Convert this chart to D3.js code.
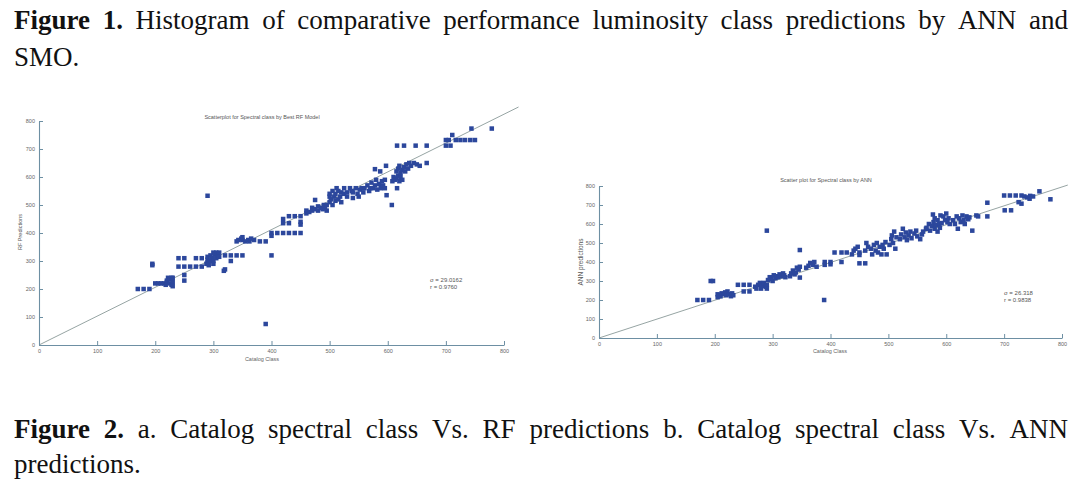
<!DOCTYPE html>
<html>
<head>
<meta charset="utf-8">
<script src="https://cdn.jsdelivr.net/npm/d3@7"></script>
<style>
  body { margin: 0; background: #fff; }
  svg { display: block; }
</style>
</head>
<body>
<div id="figure"></div>
<script>
// ---- data ----
const axisTicks = [0, 100, 200, 300, 400, 500, 600, 700, 800];

// RF model: [catalog class, predicted class]
const rfPoints = [
  [170,200],[180,200],[190,200],[195,290],[195,285],
  [200,220],[205,220],[210,220],[215,220],[218,215],[220,225],[220,230],[222,240],[225,235],[225,220],
  [228,240],[228,215],[230,225],[230,240],[230,210],
  [240,310],[250,310],[240,280],[250,280],[260,280],[270,280],[280,280],[250,250],[250,230],[270,310],[280,310],
  [288,290],[290,295],[290,305],[290,315],[292,285],[295,300],[295,320],[298,310],[300,330],[300,300],
  [302,325],[305,310],[305,330],[308,320],[310,330],[310,315],[300,290],
  [290,533],
  [320,320],[320,270],[318,265],[330,300],[330,320],[340,320],[350,320],
  [340,370],[343,375],[348,380],[350,385],[350,375],[355,370],[360,375],[362,370],[365,380],[370,375],[380,370],[390,370],
  [390,75],
  [400,320],[400,400],[400,390],
  [420,450],[420,435],[430,435],[430,460],[410,400],[420,400],[430,400],[440,400],[450,400],[440,460],[450,460],[450,440],[450,430],
  [460,470],[460,480],[465,475],[470,490],[470,480],[475,518],[475,485],[480,480],[480,495],[485,490],[488,485],
  [490,500],[492,490],[495,500],[495,480],
  [500,510],[500,530],[500,540],[502,520],[505,500],[505,550],[508,530],[510,515],[510,540],[512,560],[515,520],
  [515,550],[518,530],[520,545],[520,510],
  [525,560],[525,540],[530,545],[530,530],[535,560],[538,550],[540,525],[540,545],[545,560],[548,540],[550,530],
  [552,555],[555,560],[558,545],
  [560,560],[565,570],[568,550],[570,560],[572,580],[575,560],[578,570],[580,590],[582,555],[585,575],[588,560],
  [590,585],[592,570],[595,560],[595,590],
  [578,628],[587,620],[597,640],[598,535],[607,500],
  [608,585],[610,600],[612,590],[615,595],[618,605],[620,585],[622,600],[625,590],[616,560],
  [615,620],[618,630],[620,640],[622,615],[625,625],[628,635],[630,620],[632,645],[635,630],[637,650],[640,640],
  [616,712],[628,712],[648,712],[667,712],
  [645,650],[650,645],[667,650],[655,640],
  [700,732],[705,732],[700,712],[708,712],
  [717,732],[725,732],[733,732],[742,732],[750,732],[711,750],[744,773],[779,773]
];

// ANN model: [catalog class, predicted class]
const annPoints = [
  [170,200],[180,200],[190,200],[193,300],[197,300],
  [205,215],[208,225],[210,220],[212,235],[215,230],[218,240],[220,225],[222,245],[225,230],[228,220],
  [230,235],[232,225],[205,230],
  [240,280],[250,280],[260,280],[250,245],[260,245],
  [270,270],[272,260],[275,280],[278,290],[280,260],[282,275],[285,290],[288,270],[290,280],[290,260],
  [290,565],
  [292,305],[295,320],[298,310],[300,300],[302,330],[305,315],[308,325],[310,320],[312,335],[315,325],
  [318,340],[320,330],[322,320],
  [330,325],[332,340],[335,355],[338,335],[340,345],[342,370],[345,360],[347,375],[347,318],[347,463],
  [358,370],[362,380],[365,395],[370,385],[372,400],[376,375],
  [389,200],[390,400],[390,385],[400,400],[400,388],
  [407,450],[419,450],[428,450],[419,400],
  [437,440],[440,460],[443,470],[447,480],[450,450],[450,437],[450,393],[460,393],
  [460,460],[462,500],[465,480],[470,470],[472,440],[475,490],[478,460],[480,500],[482,450],[485,480],
  [488,440],[490,490],[492,470],[495,505],[497,440],
  [502,490],[505,520],[506,540],[508,500],[510,560],[512,470],[514,530],
  [520,520],[522,545],[525,575],[528,530],[530,555],[532,515],[535,540],[538,560],[540,525],[545,550],
  [548,565],[550,535],[555,520],[558,545],[560,560],[565,575],
  [566,580],[570,600],[572,565],[575,590],[578,610],[580,575],[582,595],[585,560],[588,600],[589,580],
  [577,650],[580,630],[585,620],[590,645],[592,605],[595,640],[598,620],[600,655],[602,610],[604,630],[606,600],
  [612,620],[615,600],[618,640],[620,575],[622,630],[625,610],[628,645],[630,620],[632,600],[635,640],
  [638,625],[640,635],
  [645,565],[652,645],[655,640],
  [671,712],[671,640],
  [700,750],[710,750],[720,750],[730,750],[735,745],[740,740],[745,748],[750,745],[701,672],[712,672],
  [730,707],[725,715],[744,733],[761,772],[780,730]
];

// fitted lines: start and end in data units
const rfFit = [[0, 0], [825, 850]];
const annFit = [[0, 0], [810, 805]];

const rfStats = ["\u03c3 = 29.0162", "r = 0.9760"];
const annStats = ["\u03c3 = 26.318", "r = 0.9838"];

const caption1 = "Figure 1.|Histogram of comparative performance luminosity class predictions by ANN and";
const caption1b = "SMO.";
const caption2 = "Figure 2.|a.  Catalog spectral class Vs.  RF predictions b.  Catalog spectral class Vs.  ANN";
const caption2b = "predictions.";

const W = 1080, H = 488;
const serif = "'Liberation Serif', 'DejaVu Serif', serif";
const sans = "'Liberation Sans', Arial, sans-serif";

const svg = d3.select("#figure").append("svg")
  .attr("width", W)
  .attr("height", H);

/**
 * Writes one justified caption line. The part before "|" is bold.
 */
function justifiedLine(text, y, x0, x1, justify) {
  const parts = text.split("|");
  const tokens = [];
  if (parts.length > 1) {
    parts[0].split(" ").forEach(w => tokens.push({ w, bold: true }));
    parts[1].split(/ +/).forEach(w => tokens.push({ w, bold: false }));
  } else {
    parts[0].split(/ +/).forEach(w => tokens.push({ w, bold: false }));
  }
  const g = svg.append("g");
  const nodes = tokens.map(t => g.append("text")
    .attr("y", y)
    .style("font-family", serif)
    .style("font-size", "27px")
    .style("font-weight", t.bold ? "bold" : "normal")
    .attr("fill", "#111")
    .text(t.w));
  const widths = nodes.map(n => n.node().getComputedTextLength());
  const total = d3.sum(widths);
  const gap = justify ? (x1 - x0 - total) / (nodes.length - 1) : 6.5;
  let x = x0;
  nodes.forEach((n, i) => { n.attr("x", x); x += widths[i] + gap; });
}

justifiedLine(caption1, 29, 14, 1068, true);
justifiedLine(caption1b, 66, 14, 1068, false);
justifiedLine(caption2, 438, 14, 1068, true);
justifiedLine(caption2b, 473, 14, 1068, false);

/**
 * Draws one scatter panel.
 */
function drawPanel(cfg) {
  const x = d3.scaleLinear().domain([0, 800]).range([cfg.left, cfg.right]);
  const y = d3.scaleLinear().domain([0, 800]).range([cfg.bottom, cfg.top]);
  const g = svg.append("g");

  // fitted line
  g.append("line")
    .attr("x1", x(cfg.fit[0][0])).attr("y1", y(cfg.fit[0][1]))
    .attr("x2", x(cfg.fit[1][0])).attr("y2", y(cfg.fit[1][1]))
    .attr("stroke", "#8a9a98")
    .attr("stroke-width", 0.9);

  // points
  g.selectAll("rect.pt")
    .data(cfg.points)
    .enter()
    .append("rect")
      .attr("class", "pt")
      .attr("x", d => x(d[0]) - cfg.ms / 2)
      .attr("y", d => y(d[1]) - cfg.ms / 2)
      .attr("width", cfg.ms)
      .attr("height", cfg.ms)
      .attr("fill", "#2c479c");

  // axes, ticks pointing inward
  const xAxis = g.append("g")
    .attr("transform", "translate(0," + cfg.bottom + ")")
    .call(d3.axisBottom(x).tickValues(axisTicks).tickSize(-4).tickSizeOuter(0).tickPadding(4));
  const yAxis = g.append("g")
    .attr("transform", "translate(" + cfg.left + ",0)")
    .call(d3.axisLeft(y).tickValues(axisTicks).tickSize(-4).tickSizeOuter(0).tickPadding(4));
  [xAxis, yAxis].forEach(a => {
    a.select(".domain").attr("stroke", "#6d8fa3").attr("stroke-width", 1.1);
    a.selectAll(".tick line").attr("stroke", "#6d8fa3");
    a.selectAll(".tick text")
      .style("font-family", sans)
      .style("font-size", "5.5px")
      .attr("fill", "#666");
  });

  // title and labels
  g.append("text")
    .attr("x", cfg.titleX).attr("y", cfg.titleY)
    .attr("text-anchor", "middle")
    .style("font-family", sans).style("font-size", "5.5px")
    .attr("fill", "#555")
    .text(cfg.title);
  g.append("text")
    .attr("x", cfg.xLabelX).attr("y", cfg.xLabelY)
    .attr("text-anchor", "middle")
    .style("font-family", sans).style("font-size", "5.5px")
    .attr("fill", "#666")
    .text("Catalog Class");
  g.append("text")
    .attr("text-anchor", "middle")
    .attr("transform", "translate(" + cfg.yLabelX + "," + cfg.yLabelY + ")rotate(-90)")
    .style("font-family", sans).style("font-size", cfg.yLabelSize)
    .attr("fill", "#555")
    .text(cfg.yLabel);

  // statistics box
  cfg.stats.forEach((s, i) => {
    g.append("text")
      .attr("x", cfg.statsX).attr("y", cfg.statsY + i * 7)
      .style("font-family", sans).style("font-size", "6px")
      .attr("fill", "#555")
      .text(s);
  });
}

drawPanel({
  points: rfPoints, fit: rfFit, stats: rfStats,
  left: 39, right: 504, top: 121, bottom: 345, ms: 4.5,
  title: "Scatterplot for  Spectral class by Best RF Model", titleX: 262, titleY: 119,
  xLabelX: 262, xLabelY: 361,
  yLabel: "RF Predictions", yLabelX: 22, yLabelY: 232, yLabelSize: "5.5px",
  statsX: 430, statsY: 282
});

drawPanel({
  points: annPoints, fit: annFit, stats: annStats,
  left: 599, right: 1062, top: 186, bottom: 338, ms: 4.5,
  title: "Scatter plot for Spectral class by ANN", titleX: 826, titleY: 182,
  xLabelX: 830, xLabelY: 353,
  yLabel: "ANN predictions", yLabelX: 583, yLabelY: 262, yLabelSize: "6.5px",
  statsX: 1004, statsY: 295
});
</script>
</body>
</html>
